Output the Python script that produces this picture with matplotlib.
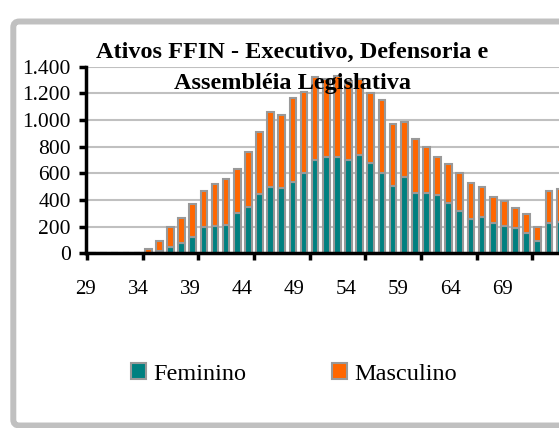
import matplotlib
matplotlib.use("Agg")
import matplotlib.pyplot as plt
import matplotlib.transforms as mtransforms
from matplotlib.patches import FancyBboxPatch

plt.rcParams['font.family'] = ['Liberation Serif', 'DejaVu Serif']

# idade (29..71), valores
idades = list(range(29, 72))
feminino = [0, 0, 0, 0, 0, 5, 20, 45, 80, 125,
            195, 207, 212, 305, 350, 442, 500, 487, 537, 600,
            702, 720, 725, 700, 737, 675, 605, 505, 575, 450,
            450, 437, 380, 320, 257, 275, 225, 205, 187, 155,
            92, 230, 237]
masculino = [0, 0, 0, 0, 0, 27, 70, 155, 182, 245,
             270, 310, 343, 325, 412, 465, 562, 550, 630, 607,
             618, 590, 605, 590, 573, 530, 545, 465, 407, 405,
             345, 288, 287, 285, 273, 225, 200, 187, 150, 140,
             103, 240, 245]
rotulos_x = ['29', '34', '39', '44', '49', '54', '59', '64', '69']
yticks = list(range(0, 1401, 200))

cor_fem = '#008080'
cor_masc = '#FF6600'
cor_borda = '#999999'

W, H = 559, 428
fig = plt.figure(figsize=(W / 100, H / 100), dpi=100)

# moldura cinza arredondada (cortada a direita, como no original)
frame = FancyBboxPatch((13.3, 2.5), 700, 404, boxstyle='round,pad=0,rounding_size=6',
                       transform=mtransforms.IdentityTransform(),
                       facecolor='white', edgecolor='#C0C0C0', linewidth=4.3, zorder=-5)
fig.add_artist(frame)

px_cat = 11.15  # pixels por categoria
ax_left, ax_right = 86, 620
ax_bottom, ax_top = 253.3, 66.7
ax = fig.add_axes([ax_left / W, 1 - ax_bottom / H, (ax_right - ax_left) / W, (ax_bottom - ax_top) / H])
ax.patch.set_visible(False)

x = list(range(len(idades)))
ax.bar(x, feminino, width=0.6, color=cor_fem, edgecolor=cor_borda, linewidth=1.5, label='Feminino')
ax.bar(x, masculino, width=0.6, bottom=feminino, color=cor_masc, edgecolor=cor_borda, linewidth=1.5,
       label='Masculino')

ax.set_xlim(-0.5, -0.5 + (ax_right - ax_left) / px_cat)
ax.set_ylim(0, 1400)
ax.set_yticks(yticks)
ax.set_yticklabels([f'{v:,}'.replace(',', '.') for v in yticks])
ax.grid(axis='y', color='#C0C0C0', linewidth=1.5)
ax.set_axisbelow(True)

for s in ['top', 'right']:
    ax.spines[s].set_visible(False)
for s in ['left', 'bottom']:
    ax.spines[s].set_linewidth(2.5)
    ax.spines[s].set_color('black')

# marcas entre categorias a cada 5, rotulos deslocados como no original
ax.set_xticks([i - 0.5 for i in range(0, len(idades) + 5, 5)], minor=True)
pos_rot = [(85 + 52.2 * k - ax_left) / px_cat - 0.5 for k in range(len(rotulos_x))]
ax.set_xticks(pos_rot)
ax.set_xticklabels(rotulos_x)
ax.tick_params(axis='x', which='major', length=0, pad=19, labelsize=15)
ax.tick_params(axis='x', which='minor', length=5, width=2.5, direction='out')
ax.tick_params(axis='y', length=5, width=2.5, pad=6, labelsize=15.5)

fig.text(292.5 / W, 1 - 58 / H, 'Ativos FFIN - Executivo, Defensoria e', ha='center', va='baseline',
         fontsize=17.5, fontweight='bold', zorder=10)
fig.text(292.5 / W, 1 - 89 / H, 'Assembléia Legislativa', ha='center', va='baseline',
         fontsize=17.5, fontweight='bold', zorder=10)

fig.legend(loc='center', bbox_to_anchor=(294 / W, 1 - 374 / H), ncol=2, frameon=False,
           fontsize=17.5, handlelength=0.62, handleheight=0.62, handletextpad=0.3, columnspacing=3.5)

fig.savefig('out.png', dpi=100)
